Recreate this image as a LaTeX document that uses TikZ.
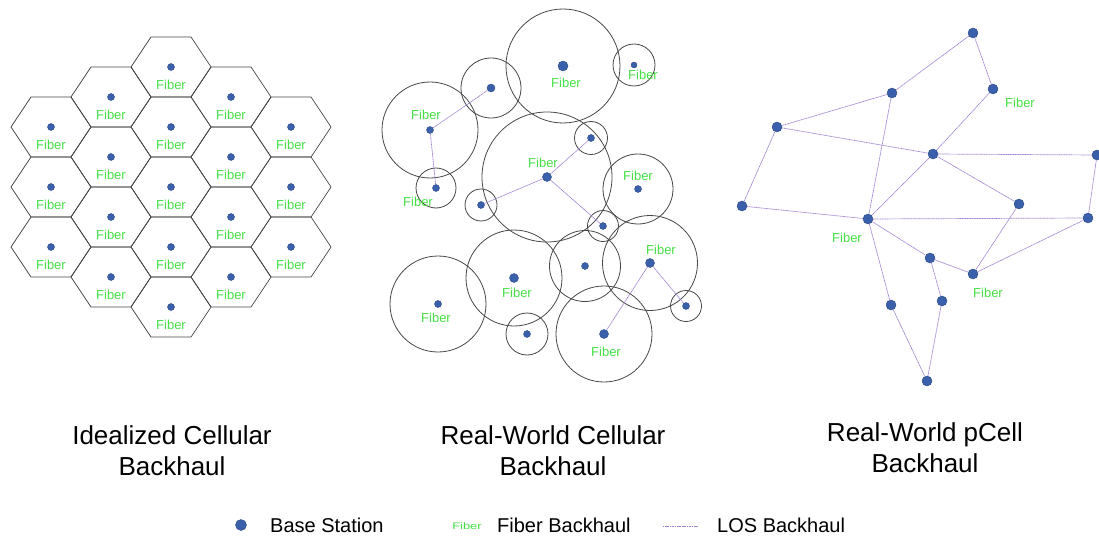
\documentclass[tikz,border=0pt]{standalone}
\usepackage{fontspec}
\setmainfont{Liberation Sans}
\definecolor{bsblue}{RGB}{58,96,172}
\definecolor{fibergreen}{RGB}{70,224,70}
\definecolor{loscol}{RGB}{160,130,210}
\definecolor{cellgray}{RGB}{70,70,70}
\begin{document}
\begin{tikzpicture}[x=1pt,y=-1pt,
	bs/.style={circle,fill=bsblue,draw=bsblue!75!black,line width=0.4pt,inner sep=0pt,minimum size=7pt},
	fiber/.style={text=fibergreen,font=\fontsize{13}{13}\selectfont,inner sep=0pt},
	hexline/.style={draw=cellgray,line width=0.7pt},
	cell/.style={draw=cellgray,line width=0.8pt},
	los/.style={draw=loscol,line width=0.7pt,dash pattern=on 1.2pt off 0.5pt},
	title/.style={font=\fontsize{26}{31}\selectfont,align=center,inner sep=0pt},
	legend/.style={font=\fontsize{20}{20}\selectfont,inner sep=0pt,anchor=west}]
	\useasboundingbox (0,0) rectangle (1099,540);

	% idealized cellular grid
	\foreach \x/\y [count=\i] in {51/127,51/187,51/247,
		111/97,111/157,111/217,111/277,
		171/67,171/127,171/187,171/247,171/307,
		231/97,231/157,231/217,231/277,
		291/127,291/187,291/247}
	{
		\draw[hexline] (\x,\y) ++(-40,0) -- ++(20,-30) -- ++(40,0)
			-- ++(20,30) -- ++(-20,30) -- ++(-40,0) -- cycle;
		\node[bs] (h\i) at (\x,\y) {};
		\node[fiber] (hf\i) at (\x,\y+18) {Fiber};
	}

	% real-world cellular
	\foreach \n/\x/\y/\r/\s in {m1/563/66/57/10, m2/634/65/21/6, m3/491/88/30/8,
		m4/430/130/48/7, m5/436/188/20/7, m6/547/177/65/9, m7/591/138/16.5/7,
		m8/638/189/35/7, m9/481/205/16/7, m10/603/226/15.5/7, m11/585/266/35.5/7,
		m12/650/263/47.5/9, m13/686/306/15.5/7, m14/514/278/48/9,
		m15/438/304/48/7, m16/527/334/21/7, m17/604/334/48/9}
	{
		\draw[cell] (\x,\y) circle [radius=\r pt];
		\node[bs,minimum size=\s pt] (\n) at (\x,\y) {};
	}
	\foreach \x/\y [count=\i] in {566/83,643/75,426/115,418/202,543/163,
		638/176,661/250,517/293,436/318,606/352}
		\node[fiber] (mf\i) at (\x,\y) {Fiber};
	\foreach \a/\b in {m4/m3,m4/m5,m6/m7,m6/m9,m6/m10,m12/m17,m12/m13}
		\draw[los] (\a) -- (\b);

	% real-world pcell
	\foreach \n/\x/\y in {p1/973/33, p2/993/89, p3/892/93, p4/777/127,
		p5/933/154, p6/1097/155, p7/742/206, p8/868/219, p9/1019/204,
		p10/1088/218, p11/930/258, p12/973/274, p13/891/305, p14/942/301,
		p15/927/381}
		\node[bs,minimum size=10pt] (\n) at (\x,\y) {};
	\foreach \a/\b in {p1/p3,p1/p2,p3/p4,p3/p8,p4/p5,p4/p7,p7/p8,p2/p5,
		p5/p8,p5/p6,p5/p9,p6/p10,p8/p10,p8/p11,p8/p13,p11/p12,p11/p14,
		p9/p12,p12/p10,p13/p15,p14/p15}
		\draw[los] (\a) -- (\b);
	\foreach \x/\y [count=\i] in {1020/103,847/238,988/293}
		\node[fiber] (pf\i) at (\x,\y) {Fiber};

	% titles
	\node[title,anchor=base] (t1) at (172,475) {Idealized Cellular\\Backhaul};
	\node[title,anchor=base] (t2) at (553,475) {Real-World Cellular\\Backhaul};
	\node[title,anchor=base] (t3) at (925,472) {Real-World pCell\\Backhaul};

	% legend
	\node[bs,minimum size=11pt] (lbs) at (241,525) {};
	\node[legend] (lbst) at (270,525) {Base Station};
	\node[fiber,font=\fontsize{9.5}{10}\selectfont,xscale=1.35] (lfib) at (467,526) {Fiber};
	\node[legend] (lfibt) at (497,525) {Fiber Backhaul};
	\coordinate (los1) at (663,526);
	\coordinate (los2) at (698,526);
	\draw[los] (los1) -- (los2);
	\node[legend] (lost) at (717,525) {LOS Backhaul};
\end{tikzpicture}
\end{document}
